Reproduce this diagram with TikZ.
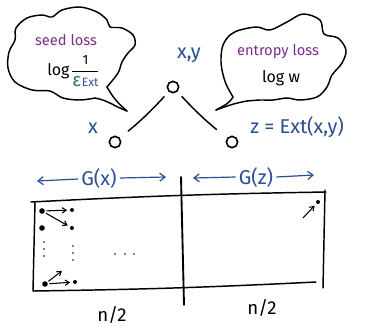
\documentclass[tikz,border=0pt]{standalone}
\usepackage{fontspec}
\setmainfont{Fira Sans}
\usetikzlibrary{arrows.meta}
\definecolor{gblue}{HTML}{2B4F93}
\definecolor{gpurple}{HTML}{7B2D8B}
\definecolor{ggreen}{HTML}{2E7A52}
\begin{document}
\begin{tikzpicture}[x=0.75pt,y=-0.75pt,
  ink/.style={line width=1.1pt, line cap=round, line join=round},
  vert/.style={circle, draw, line width=1.2pt, minimum size=8.5pt, inner sep=0pt},
  dotbig/.style={circle, fill, minimum size=4.2pt, inner sep=0pt},
  dotsmall/.style={circle, fill, minimum size=3pt, inner sep=0pt},
  edgeto/.style={line width=0.8pt, -{Straight Barb[length=3pt,width=4pt]}},
  lbl/.style={text=gblue, font=\fontsize{15}{17}\selectfont, inner sep=0pt},
  cloudtxt/.style={text=gpurple, font=\fontsize{11}{13}\selectfont, inner sep=0pt},
  blk/.style={font=\fontsize{12}{14}\selectfont, inner sep=0pt},
  garrow/.style={line width=0.9pt, gblue, -{Straight Barb[length=4pt,width=6pt]}},
  tinydot/.style={circle, fill, minimum size=1.2pt, inner sep=0pt}]
\useasboundingbox (0,0) rectangle (381,326);

% ---- left cloud
\draw[ink] plot[smooth, tension=0.55] coordinates {
 (95,98) (80,100) (63,98) (50,91) (32,90) (15,82) (8,68) (9,52) (15,40)
 (16,28) (27,18) (42,15) (52,17) (62,10) (80,7) (97,12) (107,20) (110,27)
 (122,28) (133,35) (135,45) (128,53) (122,62) (118,73) (107,87)};
\coordinate (lct) at (127,111);
\draw[ink] (95,98) to[out=-10,in=160] (lct);
\draw[ink] (107,87) to[out=-60,in=140] (lct);

% ---- right cloud
\draw[ink] plot[smooth, tension=0.55] coordinates {
 (247,101) (260,100) (273,100) (287,98) (300,100) (317,97) (327,87) (332,75)
 (342,63) (346,50) (338,38) (324,34) (320,20) (303,14) (287,22) (270,30)
 (257,27) (240,30) (230,35) (223,45) (221,58) (222,70) (226,84) (233,97)};
\coordinate (rct) at (216,110);
\draw[ink] (233,97) to[out=-120,in=30] (rct);
\draw[ink] (247,101) to[out=-170,in=20] (rct);

% ---- cloud texts
\node[cloudtxt] (seed) at (66,40) {seed loss};
\node[blk, anchor=west] (seedlog) at (47,71) {log\hspace{1pt}$\displaystyle\frac{\mbox{\fontsize{10}{11}\selectfont 1}}{\mbox{\fontsize{14}{15}\selectfont\color{ggreen}ε\hspace{0.5pt}\fontsize{9}{10}\selectfont\color{gblue}Ext}}$};
\node[cloudtxt] (ent) at (278,52) {entropy loss};
\node[blk] (entlog) at (281,78) {log w};

% ---- graph vertices
\node[vert] (xy) at (173,87) {};
\node[vert] (xn) at (115,142) {};
\node[vert] (zn) at (232,142) {};
\draw[ink, shorten <=5pt, shorten >=8pt] (xy) to[bend left=4] (xn);
\draw[ink, shorten <=5pt, shorten >=10pt] (xy) to[bend right=4] (zn);

\node[lbl] (xylbl) at (189,55) {x,y};
\node[lbl] (xlbl) at (93,128) {x};
\node[lbl, anchor=west] (zlbl) at (250,127) {z = Ext(x,y)};

% ---- G labels
\node[lbl] (gx) at (99,178) {G(x)};
\coordinate (gxl) at (37,181);
\coordinate (gxr) at (166,177);
\draw[garrow] (gx.west) ++(-3,1) coordinate (gxa) -- (gxl);
\draw[garrow] (gx.east) ++(3,0) coordinate (gxb) -- (gxr);
\node[lbl] (gz) at (256,177) {G(z)};
\coordinate (gzl) at (193,178);
\coordinate (gzr) at (314,175);
\draw[garrow] (gz.west) ++(-3,0) coordinate (gza) -- (gzl);
\draw[garrow] (gz.east) ++(3,0) coordinate (gzb) -- (gzr);

% ---- table
\coordinate (tl) at (33,202);
\coordinate (tr) at (326,192);
\coordinate (br) at (323,288);
\coordinate (bl) at (33,291);
\draw[ink] (31,202) to[bend left=1] (tr);
\draw[ink] (325,190) -- (br);
\draw[ink] (35,202) -- (bl);
\draw[ink] (bl) to[bend right=1] (316,282);
\coordinate (vt) at (181,177);
\coordinate (vb) at (184,305);
\draw[line width=1.4pt, line cap=round] (vt) -- (vb);

% ---- dots and arrows
\node[dotbig] (a1) at (42,211) {};
\node[dotsmall] (b1) at (72,210) {};
\node[dotbig] (a2) at (42,228) {};
\node[dotsmall] (b2) at (72,228) {};
\node[dotbig] (a3) at (45,284) {};
\node[dotsmall] (b3) at (75,282) {};
\draw[edgeto, shorten <=1pt, shorten >=2pt] (a1) -- (b1);
\draw[edgeto, shorten <=1pt, shorten >=2pt] (a1) -- (b2);
\draw[edgeto, shorten <=1pt, shorten >=1pt] (a3) -- ++(18,-14) coordinate (a3up);
\draw[edgeto, shorten <=1pt, shorten >=2pt] (a3) -- (b3);
\foreach \y in {242,249,256} \node[tinydot] at (44,\y) {};
\foreach \y in {246,253,260} \node[tinydot] at (73,\y) {};
\foreach \x in {115,125,134} \node[tinydot] at (\x,254) {};
\node[dotsmall] (c1) at (318,202) {};
\coordinate (c1s) at (303,218);
\draw[edgeto, shorten >=2pt] (c1s) -- (c1);

% ---- n/2
\node[blk, font=\fontsize{14}{16}\selectfont] (n1) at (112,315) {n/2};
\node[blk, font=\fontsize{14}{16}\selectfont] (n2) at (262,308) {n/2};
\end{tikzpicture}
\end{document}
